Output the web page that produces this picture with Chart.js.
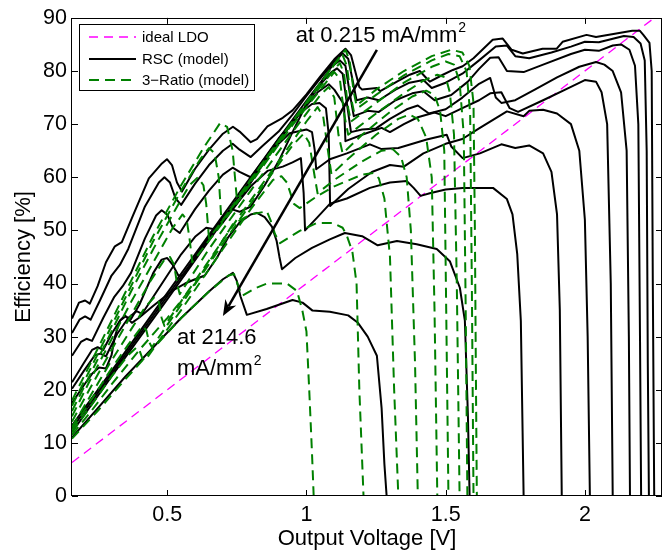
<!DOCTYPE html>
<html><head><meta charset="utf-8">
<script src="https://cdn.jsdelivr.net/npm/chart.js@4.4.0/dist/chart.umd.min.js"></script>
<style>html,body{margin:0;padding:0;background:#fff}canvas{display:block}</style>
</head><body>
<canvas id="c" width="663" height="555"></canvas>
<script>
// ---------- data ----------
const X_TICKS = [0.5, 1, 1.5, 2];
const Y_TICKS = [0, 10, 20, 30, 40, 50, 60, 70, 80, 90];
const X_RANGE = [0.158, 2.277];
const Y_RANGE = [0, 90];

const LDO = [[0.158, 6.3], [2.277, 91.1]];

const RSC_1 = [[0.158,33.4],[0.183,36.4],[0.205,36.8],[0.222,36.2],[0.25,39.5],[0.28,44],[0.312,47],[0.337,47.8],[0.373,52.3],[0.434,59.8],[0.481,62.6],[0.499,63.4],[0.517,62.3],[0.535,59],[0.553,57.3],[0.6,61.6],[0.65,65.2],[0.7,68.2],[0.736,69.5],[0.76,68.6],[0.8,66.6],[0.822,67.2],[0.86,69.6],[0.915,71.2],[0.95,72.6],[1.0,75.6],[1.05,79],[1.1,82.2],[1.14,84.2],[1.16,83],[1.175,80],[1.19,77],[1.2,76.5],[1.253,76.8],[1.265,76.2],[1.325,78],[1.371,79.3],[1.407,80],[1.432,78.6],[1.443,78],[1.49,79.3],[1.526,80.2],[1.561,80.9],[1.6,82.4],[1.669,85.9],[1.705,86.1],[1.737,84],[1.777,83.3],[1.848,84.2],[1.899,84.2],[1.92,85.5],[2.006,86.8],[2.04,86.4],[2.17,87.6],[2.197,87.6],[2.21,86.8],[2.232,85.3],[2.24,80],[2.244,40],[2.249,0],[2.28,0]];
const RSC_2 = [[0.158,30.7],[0.185,33.2],[0.205,33.8],[0.225,33.2],[0.26,37],[0.3,41.5],[0.33,43.5],[0.36,46.5],[0.42,54.5],[0.47,59],[0.49,60],[0.51,59],[0.53,56],[0.55,54.8],[0.6,58.8],[0.65,62.3],[0.7,65],[0.735,66.3],[0.76,65.2],[0.8,63.8],[0.84,65.8],[0.9,68.6],[0.95,71.8],[1.0,75.3],[1.05,78.6],[1.1,81.8],[1.13,83.3],[1.15,82.3],[1.165,78.5],[1.18,74.5],[1.22,75],[1.26,74.5],[1.32,76.5],[1.37,77.8],[1.42,78.3],[1.45,76.8],[1.5,77.8],[1.56,79.5],[1.62,82],[1.68,84.6],[1.72,84.8],[1.75,82.8],[1.8,82.4],[1.88,83.5],[1.95,84.6],[2.0,85.5],[2.05,85.4],[2.14,86.6],[2.175,86.4],[2.2,85.2],[2.215,82],[2.222,65],[2.226,25],[2.23,0],[2.28,0]];
const RSC_3 = [[0.158,26.4],[0.19,29],[0.21,29.6],[0.23,29.2],[0.27,33.5],[0.31,37.5],[0.34,39.5],[0.37,42],[0.42,48.5],[0.46,52.8],[0.48,53.8],[0.5,53],[0.52,50.5],[0.545,49.5],[0.6,54],[0.65,57.5],[0.7,60.5],[0.735,61.8],[0.76,61],[0.8,60],[0.85,63.5],[0.9,67.2],[0.95,70.8],[1.0,74.4],[1.05,77.8],[1.09,80.8],[1.12,82],[1.14,81],[1.155,76],[1.17,71.5],[1.22,72.5],[1.26,72.3],[1.32,74.5],[1.38,75.8],[1.42,76.2],[1.46,74.5],[1.52,75.5],[1.58,78],[1.62,80.4],[1.66,82.5],[1.69,82.6],[1.72,80],[1.78,79.8],[1.85,81.2],[1.95,83.2],[2.0,84],[2.05,83.8],[2.1,84.8],[2.13,85],[2.16,84],[2.18,81],[2.192,70],[2.198,30],[2.202,0],[2.28,0]];
const RSC_4 = [[0.158,21.4],[0.2,25],[0.23,27.5],[0.25,28],[0.27,27.5],[0.3,30.5],[0.33,33],[0.35,33.8],[0.37,33.3],[0.4,36],[0.45,42],[0.48,44.5],[0.5,44.8],[0.52,43.5],[0.54,41.5],[0.56,41.5],[0.6,45],[0.65,49],[0.7,52.5],[0.73,54],[0.76,53.5],[0.8,54.5],[0.85,58.5],[0.9,63],[0.95,68.5],[1.0,73.8],[1.05,77.5],[1.09,79.8],[1.11,80.5],[1.13,79.5],[1.145,74],[1.16,68.5],[1.2,69],[1.25,69.2],[1.3,71],[1.36,72.8],[1.4,73.5],[1.44,72],[1.5,72.8],[1.56,75],[1.62,77.6],[1.66,78.7],[1.68,75],[1.7,74],[1.75,74.5],[1.82,76.5],[1.9,78.8],[1.98,80.8],[2.04,81.7],[2.07,81.2],[2.1,80],[2.13,76],[2.15,65],[2.158,30],[2.162,0],[2.28,0]];
const RSC_5 = [[0.158,20.2],[0.2,23.5],[0.24,26.5],[0.26,26.8],[0.28,26.3],[0.32,30.5],[0.36,33.5],[0.39,34.8],[0.41,34.3],[0.45,37.5],[0.5,41.5],[0.55,45.5],[0.6,48.8],[0.64,50.5],[0.67,50.2],[0.7,51.5],[0.75,55],[0.8,59],[0.85,63],[0.9,66.8],[0.95,70.3],[1.0,73.5],[1.04,76],[1.08,77.5],[1.1,76.5],[1.135,73.7],[1.14,66.8],[1.2,68],[1.27,69.3],[1.3,68.5],[1.35,70],[1.4,71.3],[1.46,72.2],[1.5,71.5],[1.56,73],[1.62,74.5],[1.66,75.8],[1.7,76],[1.73,73],[1.76,72.3],[1.85,74.5],[1.95,77],[2.0,78.3],[2.04,78],[2.06,76],[2.08,70],[2.093,40],[2.1,0],[2.28,0]];
const RSC_6 = [[0.158,13.3],[0.3,23.5],[0.5,38.2],[0.7,52.8],[0.9,67.3],[0.98,72.2],[1.02,73.8],[1.047,74],[1.07,73],[1.08,68],[1.085,54.6],[1.15,57.8],[1.235,61],[1.3,62.3],[1.35,62],[1.42,64.5],[1.5,66.3],[1.56,67.2],[1.62,69.2],[1.72,72.4],[1.78,71.5],[1.8,72.5],[1.85,72.7],[1.9,72],[1.95,70],[1.98,65],[2.0,52],[2.01,30],[2.018,0],[2.28,0]];
const RSC_7 = [[0.158,12.7],[0.3,23],[0.5,37.6],[0.7,52.2],[0.88,65.3],[0.94,68.3],[1.0,69],[1.02,68.5],[1.03,65],[1.035,61.5],[1.084,63.4],[1.145,64.5],[1.228,66.2],[1.27,65.3],[1.33,65.5],[1.432,67.1],[1.504,68],[1.52,65.8],[1.561,63.6],[1.623,64.5],[1.7,66.2],[1.75,65.5],[1.8,66],[1.85,64.5],[1.88,61],[1.9,53],[1.91,35],[1.917,0],[2.28,0]];
const RSC_8 = [[0.158,12],[0.3,22.5],[0.5,37],[0.7,51.8],[0.8,58.3],[0.86,61.2],[0.915,62],[0.95,62.8],[0.98,63.6],[0.99,57],[0.995,50],[1.04,52.5],[1.084,55],[1.145,56],[1.228,58],[1.3,59],[1.36,59.3],[1.385,58],[1.41,56.5],[1.443,57],[1.5,57.7],[1.561,58],[1.67,58],[1.72,55.9],[1.74,53],[1.757,45.6],[1.77,33],[1.78,0],[2.28,0]];
const RSC_9 = [[0.158,17.5],[0.2,20.8],[0.23,23],[0.255,24.2],[0.28,24],[0.3,26.5],[0.312,30],[0.33,33],[0.348,34],[0.373,32.6],[0.4,33.6],[0.45,35.8],[0.517,38.6],[0.564,40],[0.6,40.8],[0.635,41.5],[0.68,45],[0.72,48.8],[0.76,51.5],[0.8,53],[0.822,53.3],[0.85,52.5],[0.876,50.7],[0.893,48],[0.903,45],[0.912,42.7],[0.96,44.8],[1.02,46.7],[1.084,48.3],[1.138,49.5],[1.2,48.9],[1.256,47.2],[1.325,48],[1.396,47.4],[1.468,46.5],[1.515,44.2],[1.551,39.2],[1.569,33],[1.58,15],[1.586,0],[2.28,0]];
const RSC_10 = [[0.158,11],[0.25,16.5],[0.35,22.5],[0.45,28],[0.55,33.5],[0.65,38.5],[0.7,40.8],[0.736,42],[0.75,40.5],[0.763,37.6],[0.786,34.1],[0.857,35.2],[0.95,36.9],[0.986,36.4],[1.022,34.9],[1.084,34.7],[1.15,34],[1.185,32.6],[1.22,30],[1.253,26.4],[1.27,16.5],[1.28,6],[1.288,0],[2.28,0]];

const RATIO3_1 = [[0.158,18],[0.22,24.5],[0.3,33],[0.37,40.5],[0.45,49],[0.55,58.5],[0.63,65.5],[0.69,70.2],[0.715,69.5],[0.735,65],[0.75,56],[0.85,63.2],[0.95,70.5],[1.05,77.8],[1.11,82],[1.14,84],[1.155,82],[1.17,76],[1.18,73.5],[1.25,76.5],[1.35,80],[1.45,82.8],[1.52,84],[1.56,83.5],[1.585,81],[1.6,74],[1.605,50],[1.609,20],[1.612,0],[2.28,0]];
const RATIO3_2 = [[0.158,17],[0.22,23.5],[0.3,32],[0.37,39.5],[0.45,48],[0.55,57.5],[0.62,63.5],[0.65,65.5],[0.67,64.5],[0.685,60],[0.695,51.5],[0.8,59.5],[0.95,70.5],[1.05,77.6],[1.1,81.2],[1.13,83],[1.145,81],[1.16,75],[1.17,72.5],[1.25,75.5],[1.35,79.2],[1.45,82],[1.51,83.2],[1.55,82.8],[1.575,80],[1.588,72],[1.594,40],[1.6,0],[2.28,0]];
const RATIO3_3 = [[0.158,16],[0.22,22.5],[0.3,31],[0.37,38.5],[0.45,46.5],[0.53,54],[0.58,58.5],[0.61,60],[0.63,58.5],[0.64,55],[0.65,48.5],[0.75,55.5],[0.9,66.5],[1.0,73.8],[1.08,79],[1.12,81.5],[1.135,79.5],[1.15,73],[1.16,70.5],[1.25,74],[1.35,77.8],[1.45,80.8],[1.5,81.8],[1.53,81.2],[1.55,78],[1.565,68],[1.572,35],[1.578,0],[2.28,0]];
const RATIO3_4 = [[0.158,15],[0.22,21.5],[0.3,29.5],[0.37,36.5],[0.45,44],[0.52,50.5],[0.555,53],[0.57,52],[0.58,48.5],[0.59,44],[0.7,51.5],[0.85,62.5],[0.95,69.8],[1.05,76.5],[1.1,79.8],[1.12,78.5],[1.135,72],[1.15,68],[1.25,72],[1.35,75.8],[1.42,78.2],[1.47,79.3],[1.5,78.8],[1.515,76],[1.53,68],[1.54,40],[1.55,0],[2.28,0]];
const RATIO3_5 = [[0.158,14],[0.22,20],[0.3,27.5],[0.37,34],[0.44,40.5],[0.49,44.5],[0.51,45],[0.525,43.5],[0.535,40],[0.545,38],[0.65,46.5],[0.8,57.5],[0.95,68.5],[1.05,75.5],[1.08,77],[1.1,75],[1.115,68],[1.13,64.5],[1.2,68],[1.3,72.3],[1.38,75.2],[1.43,76.3],[1.46,75.5],[1.48,72.5],[1.495,65],[1.502,35],[1.51,0],[2.28,0]];
const RATIO3_6 = [[0.158,13],[0.22,18.5],[0.3,25.5],[0.36,30.5],[0.42,35.5],[0.455,37.5],[0.47,36.5],[0.48,33.5],[0.49,32],[0.6,40.5],[0.75,52],[0.9,63],[1.0,70.5],[1.04,73.2],[1.06,71.5],[1.08,64],[1.09,60.5],[1.15,63.5],[1.25,68],[1.33,71],[1.37,71.8],[1.4,71],[1.43,67.5],[1.45,60],[1.46,35],[1.47,0],[2.28,0]];
const RATIO3_7 = [[0.158,12.5],[0.22,17.5],[0.3,24],[0.36,28.5],[0.41,32],[0.425,31.2],[0.435,29],[0.445,28],[0.55,36],[0.7,47.5],[0.85,58.8],[0.95,66],[0.99,68.2],[1.01,66.5],[1.03,60],[1.04,57],[1.1,59.5],[1.2,63],[1.27,65],[1.31,65.3],[1.34,63.8],[1.36,60],[1.375,50],[1.39,25],[1.4,0],[2.28,0]];
const RATIO3_8 = [[0.158,12],[0.22,16.5],[0.3,22.5],[0.36,26.5],[0.39,28],[0.4,27.5],[0.41,26],[0.42,25.5],[0.55,35],[0.7,46.5],[0.8,54],[0.88,59.5],[0.91,60.2],[0.93,59],[0.955,55],[0.976,54.2],[1.037,56.4],[1.1,58.3],[1.2,60.5],[1.24,60.8],[1.26,59.8],[1.28,56],[1.3,45],[1.315,20],[1.33,0],[2.28,0]];
const RATIO3_9 = [[0.158,11.5],[0.22,15.5],[0.3,21],[0.4,27.5],[0.5,33.5],[0.6,40],[0.65,44],[0.736,51.2],[0.8,53],[0.858,53.6],[0.872,51.8],[0.887,49.3],[0.905,47.6],[0.976,49.9],[1.037,51.4],[1.095,51.4],[1.13,50.5],[1.145,49],[1.165,46],[1.18,40],[1.19,20],[1.205,0],[2.28,0]];
const RATIO3_10 = [[0.158,10.8],[0.25,16],[0.35,22],[0.45,27.8],[0.55,33.5],[0.65,38.5],[0.72,41.5],[0.74,41.8],[0.755,39.5],[0.77,37.7],[0.82,39.2],[0.858,40],[0.93,40],[0.966,38.6],[0.985,35],[1.0,31],[1.01,20],[1.02,8],[1.026,0],[2.28,0]];

const RSC_SERIES = [RSC_1, RSC_2, RSC_3, RSC_4, RSC_5, RSC_6, RSC_7, RSC_8, RSC_9, RSC_10];
const RATIO3_SERIES = [RATIO3_1, RATIO3_2, RATIO3_3, RATIO3_4, RATIO3_5, RATIO3_6, RATIO3_7, RATIO3_8, RATIO3_9, RATIO3_10];

const LEGEND_LABELS = ['ideal LDO', 'RSC (model)', '3\u2212Ratio (model)'];
const ANNOT_TOP = {text: 'at 0.215 mA/mm', sup: '2', at: [0.962, 85.5]};
const ANNOT_BOTTOM = {lines: ['at 214.6', 'mA/mm'], sup: '2', at: [0.535, 28.7], at2: [0.535, 22.7]};
const ARROW = {from: [1.253, 84.0], to: [0.700, 33.9]};

// ---------- styles ----------
const FONT = '"Liberation Sans", Arial, Helvetica, sans-serif';
const BLACK = '#000000', GREEN = '#008000', MAGENTA = '#ff00ff';
const GREEN_DASH = [10, 6], MAGENTA_DASH = [9, 6];
const toXY = arr => arr.map(([x, y]) => ({x, y}));

const datasets = [];
datasets.push({label: LEGEND_LABELS[0], data: toXY(LDO), borderColor: MAGENTA, borderWidth: 1.3, borderDash: MAGENTA_DASH, order: 3});
RSC_SERIES.forEach(s => datasets.push({label: LEGEND_LABELS[1], data: toXY(s), borderColor: BLACK, borderWidth: 2, order: 2}));
RATIO3_SERIES.forEach(s => datasets.push({label: LEGEND_LABELS[2], data: toXY(s), borderColor: GREEN, borderWidth: 2, borderDash: GREEN_DASH, order: 1}));
datasets.forEach(d => { d.pointRadius = 0; d.fill = false; d.tension = 0; d.borderJoinStyle = 'round'; });

const framePlugin = {
  id: 'frame',
  afterDatasetsDraw(chart) {
    const {ctx, chartArea: a, scales: {x, y}} = chart;
    ctx.save();
    ctx.strokeStyle = '#000'; ctx.lineWidth = 1;
    ctx.strokeRect(Math.round(a.left) - 0.5, Math.round(a.top) + 0.5, Math.round(a.right - a.left), Math.round(a.bottom - a.top) - 1);
    const TL = 6;
    ctx.beginPath();
    X_TICKS.forEach(v => { const px = Math.round(x.getPixelForValue(v)) + 0.5; ctx.moveTo(px, a.bottom); ctx.lineTo(px, a.bottom - TL); ctx.moveTo(px, a.top); ctx.lineTo(px, a.top + TL); });
    Y_TICKS.forEach(v => { const py = Math.round(y.getPixelForValue(v)) + 0.5; ctx.moveTo(a.left, py); ctx.lineTo(a.left + TL, py); ctx.moveTo(a.right, py); ctx.lineTo(a.right - TL, py); });
    ctx.stroke();
    ctx.restore();
  },
  afterDraw(chart) {
    const {ctx, scales: {x, y}} = chart;
    ctx.save();
    // legend
    const bx = 79.5, by = 24.5, bw = 175, bh = 66;
    ctx.fillStyle = '#fff'; ctx.fillRect(bx, by, bw, bh);
    ctx.strokeStyle = '#000'; ctx.lineWidth = 1; ctx.strokeRect(bx, by, bw, bh);
    const rows = [
      {y: 37, color: MAGENTA, dash: MAGENTA_DASH, w: 1.3},
      {y: 59, color: BLACK, dash: [], w: 2},
      {y: 80, color: GREEN, dash: GREEN_DASH, w: 2}
    ];
    ctx.font = '15px ' + FONT; ctx.textBaseline = 'middle'; ctx.textAlign = 'left';
    rows.forEach((r, i) => {
      ctx.beginPath(); ctx.setLineDash(r.dash); ctx.strokeStyle = r.color; ctx.lineWidth = r.w;
      ctx.moveTo(89, r.y); ctx.lineTo(136, r.y); ctx.stroke();
      ctx.setLineDash([]);
      ctx.fillStyle = '#000'; ctx.fillText(LEGEND_LABELS[i], 142, r.y + 1);
    });
    // annotations
    ctx.fillStyle = '#000'; ctx.textBaseline = 'alphabetic';
    const drawSup = (txt, sup, vx, vy) => {
      const px = x.getPixelForValue(vx), py = y.getPixelForValue(vy);
      ctx.font = '22px ' + FONT; ctx.fillText(txt, px, py);
      const w = ctx.measureText(txt).width;
      if (sup) { ctx.font = '14px ' + FONT; ctx.fillText(sup, px + w + 1, py - 10); }
    };
    drawSup(ANNOT_TOP.text, ANNOT_TOP.sup, ANNOT_TOP.at[0], ANNOT_TOP.at[1]);
    drawSup(ANNOT_BOTTOM.lines[0], null, ANNOT_BOTTOM.at[0], ANNOT_BOTTOM.at[1]);
    drawSup(ANNOT_BOTTOM.lines[1], ANNOT_BOTTOM.sup, ANNOT_BOTTOM.at2[0], ANNOT_BOTTOM.at2[1]);
    // arrow
    const x1 = x.getPixelForValue(ARROW.from[0]), y1 = y.getPixelForValue(ARROW.from[1]);
    const x2 = x.getPixelForValue(ARROW.to[0]), y2 = y.getPixelForValue(ARROW.to[1]);
    const ang = Math.atan2(y2 - y1, x2 - x1);
    const L = 17, half = 0.38, back = 11;
    ctx.strokeStyle = '#000'; ctx.lineWidth = 2.5;
    ctx.beginPath(); ctx.moveTo(x1, y1); ctx.lineTo(x2 - back * Math.cos(ang), y2 - back * Math.sin(ang)); ctx.stroke();
    ctx.beginPath();
    ctx.moveTo(x2, y2);
    ctx.lineTo(x2 - L * Math.cos(ang - half), y2 - L * Math.sin(ang - half));
    ctx.lineTo(x2 - back * Math.cos(ang), y2 - back * Math.sin(ang));
    ctx.lineTo(x2 - L * Math.cos(ang + half), y2 - L * Math.sin(ang + half));
    ctx.closePath(); ctx.fill();
    ctx.restore();
  }
};

new Chart(document.getElementById('c'), {
  type: 'line',
  data: {datasets},
  options: {
    responsive: false, animation: false, devicePixelRatio: 1,
    layout: {padding: {top: 16, right: 1, left: 0, bottom: 0}},
    plugins: {legend: {display: false}, tooltip: {enabled: false}},
    scales: {
      x: {
        type: 'linear', min: X_RANGE[0], max: X_RANGE[1],
        afterBuildTicks: s => { s.ticks = X_TICKS.map(v => ({value: v})); },
        afterFit: s => { s.height = 59; },
        ticks: {callback: v => String(v), color: '#000', font: {family: FONT, size: 21.5}, padding: 6, maxRotation: 0, autoSkip: false},
        grid: {display: false, drawTicks: false}, border: {display: false},
        title: {display: true, text: 'Output Voltage [V]', color: '#000', font: {family: FONT, size: 22}, padding: {top: 0, bottom: 3}}
      },
      y: {
        type: 'linear', min: Y_RANGE[0], max: Y_RANGE[1],
        afterBuildTicks: s => { s.ticks = Y_TICKS.map(v => ({value: v})); },
        afterFit: s => { s.width = 72; },
        ticks: {callback: v => String(v), color: '#000', font: {family: FONT, size: 21.5}, padding: 5, autoSkip: false},
        grid: {display: false, drawTicks: false}, border: {display: false},
        title: {display: true, text: 'Efficiency [%]', color: '#000', font: {family: FONT, size: 22}, padding: {top: 11, bottom: 0}}
      }
    }
  },
  plugins: [framePlugin]
});
</script>
</body></html>
